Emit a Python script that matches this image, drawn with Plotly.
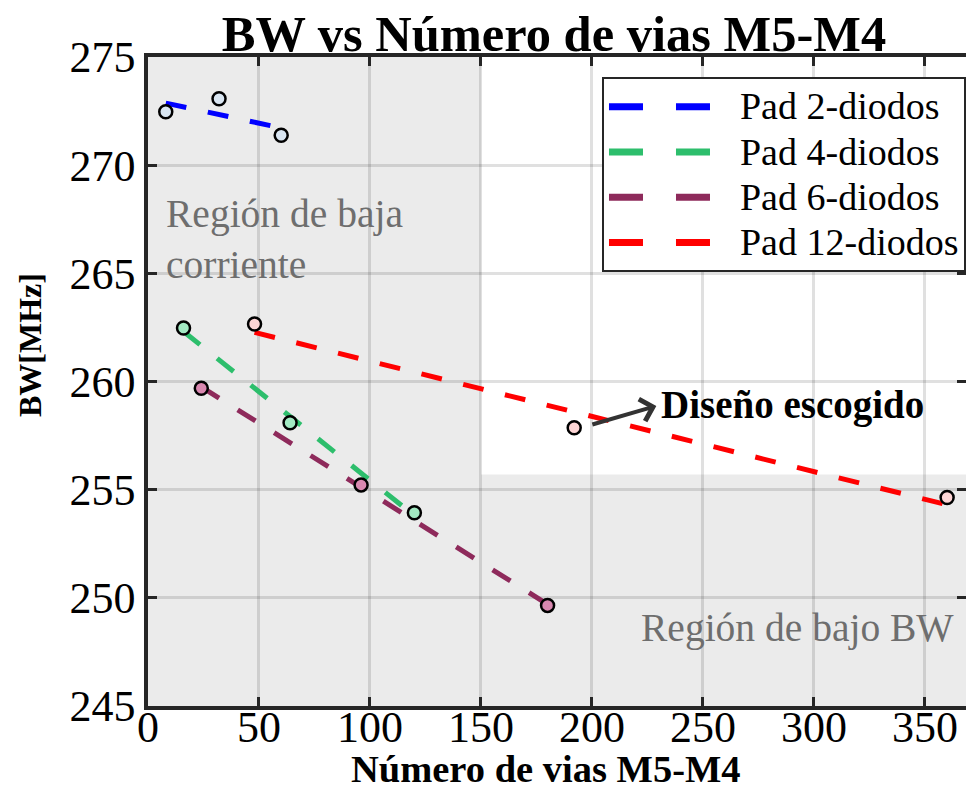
import plotly.graph_objects as go

# ---- data ----
n_pad2 = [8, 32, 60]
bw_pad2 = [272.47, 273.07, 271.38]
n_pad4 = [16, 64, 120]
bw_pad4 = [262.47, 258.09, 253.93]
n_pad6 = [24, 96, 180]
bw_pad6 = [259.69, 255.22, 249.65]
n_pad12 = [48, 192, 360]
bw_pad12 = [262.66, 257.86, 254.64]

# linear-fit end values
fit_pad2 = [272.87, 271.72]
fit_pad4 = [262.31, 253.80]
fit_pad6 = [259.75, 249.70]
fit_pad12 = [262.27, 254.30]

series_names = ["Pad 2-diodos", "Pad 4-diodos", "Pad 6-diodos", "Pad 12-diodos"]
x_ticks = [0, 50, 100, 150, 200, 250, 300, 350]
y_ticks = [245, 250, 255, 260, 265, 270, 275]

low_current_limit = 150
low_bw_limit = 255.7
chosen_n, chosen_bw = 192, 257.86

line_colors = ["#0000ff", "#2dbe6c", "#8e2a5b", "#ff0000"]
marker_fills = ["#d9e5f1", "#a2e9c2", "#d988b0", "#fdd5d5"]

FONT = "Liberation Serif"

fig = go.Figure()

groups = [
    (n_pad2, bw_pad2, fit_pad2),
    (n_pad4, bw_pad4, fit_pad4),
    (n_pad6, bw_pad6, fit_pad6),
    (n_pad12, bw_pad12, fit_pad12),
]

# trend lines
for (xs, ys, fit), col in zip(groups, line_colors):
    fig.add_trace(go.Scatter(
        x=[min(xs), max(xs)], y=fit, mode="lines",
        line=dict(color=col, width=5, dash="21px,22px"),
        showlegend=False, hoverinfo="skip"))

# markers
for (xs, ys, fit), fill in zip(groups, marker_fills):
    fig.add_trace(go.Scatter(
        x=xs, y=ys, mode="markers",
        marker=dict(size=13, color=fill, line=dict(color="black", width=2.5)),
        showlegend=False))

# legend entries
for col, name in zip(line_colors, series_names):
    fig.add_trace(go.Scatter(
        x=[None], y=[None], mode="lines",
        name='<span style="font-size:38px">' + name + '</span>',
        line=dict(color=col, width=7, dash="34px,33px")))

shade = "#ebebeb"
fig.add_shape(type="rect", xref="x", yref="y", x0=0, x1=low_current_limit,
              y0=245, y1=275, fillcolor=shade, line_width=0, layer="below")
fig.add_shape(type="rect", xref="x", yref="y", x0=low_current_limit, x1=380,
              y0=245, y1=low_bw_limit, fillcolor=shade, line_width=0, layer="below")

fig.add_annotation(x=7, y=266.55, xref="x", yref="y", text="Región de baja<br>corriente",
                   showarrow=False, xanchor="left", yanchor="middle", align="left",
                   font=dict(family=FONT, size=39.5, color="#6e6e6e"))
fig.add_annotation(x=364, y=248.6, xref="x", yref="y", text="Región de bajo BW",
                   showarrow=False, xanchor="right", yanchor="middle",
                   font=dict(family=FONT, size=39.5, color="#6e6e6e"))

# arrow from chosen design toward label
fig.add_annotation(x=229, y=258.87, xref="x", yref="y",
                   ax=chosen_n + 7.5, ay=chosen_bw + 0.13, axref="x", ayref="y",
                   text="", showarrow=True, arrowhead=4, arrowsize=1.1,
                   arrowwidth=4, arrowcolor="#333333", standoff=0, startstandoff=0)
fig.add_annotation(x=230.3, y=258.91, xref="x", yref="y", text="<b>Diseño escogido</b>",
                   showarrow=False, xanchor="left", yanchor="middle",
                   font=dict(family=FONT, size=39, color="black"))

# axis titles
fig.add_annotation(x=(546 - 148) / 818, y=(706 - 769) / 649, xref="paper", yref="paper",
                   text="<b>Número de vias M5-M4</b>", showarrow=False,
                   xanchor="center", yanchor="middle",
                   font=dict(family=FONT, size=38.5, color="black"))
fig.add_annotation(x=-(148 - 30) / 818, y=(706 - 345) / 649, xref="paper", yref="paper",
                   text="<b>BW[MHz]</b>", showarrow=False, textangle=-90,
                   xanchor="center", yanchor="middle",
                   font=dict(family=FONT, size=32, color="black"))

axis_common = dict(
    showline=True, linecolor="#262626", linewidth=3.5, mirror="allticks",
    ticks="inside", ticklen=9, tickwidth=3, tickcolor="#262626",
    showgrid=True, gridcolor="rgba(0,0,0,0.12)", gridwidth=3,
    zeroline=False, automargin=False,
    tickfont=dict(family=FONT, size=44, color="black"),
)

fig.update_xaxes(range=[0, 368.5], tickvals=x_ticks, ticklabelstandoff=-21, **axis_common)
fig.update_yaxes(range=[245, 275], tickvals=y_ticks, **axis_common)

fig.update_layout(
    width=966, height=791,
    margin=dict(l=148, r=0, t=57, b=85, pad=0, autoexpand=False),
    paper_bgcolor="white", plot_bgcolor="white",
    title=dict(text="<b>BW vs Número de vias M5-M4</b>", x=554 / 966, xanchor="center",
               y=1 - 33 / 791, yanchor="middle", xref="container", yref="container",
               font=dict(family=FONT, size=50.5, color="black")),
    legend=dict(x=0.555, y=0.969, xanchor="left", yanchor="top",
                bgcolor="white", bordercolor="#262626", borderwidth=2,
                font=dict(family=FONT, size=32.5, color="black"),
                itemwidth=126, tracegroupgap=0),
    showlegend=True,
)

fig.write_html("out.html")
